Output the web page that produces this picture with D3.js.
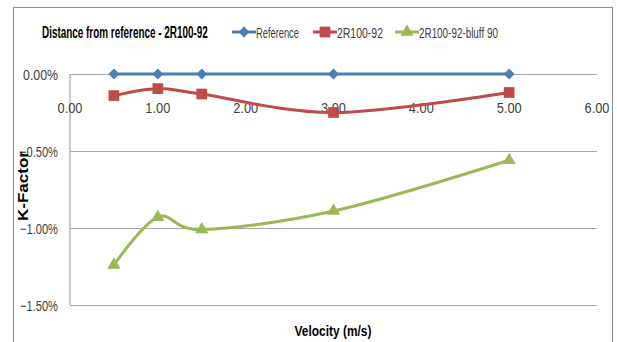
<!DOCTYPE html>
<html>
<head>
<meta charset="utf-8">
<script src="https://cdn.jsdelivr.net/npm/d3@7"></script>
<style>
  body { margin: 0; background: #fff; }
  svg { display: block; }
  text { font-family: "Liberation Sans", Arial, sans-serif; }
</style>
</head>
<body>
<svg id="chart" width="617" height="342"></svg>
<script>
// Velocity (m/s) at which each run was measured
const velocities = [0.5, 1.0, 1.5, 3.0, 5.0];
// K-Factor deviation from the reference, in percent
const referenceValues = [0, 0, 0, 0, 0];
const r100Values = [-0.14, -0.095, -0.13, -0.25, -0.12];
const bluffValues = [-1.24, -0.93, -1.01, -0.89, -0.56];
const seriesNames = ["Reference", "2R100-92", "2R100-92-bluff 90"];
const xTicks = [0, 1, 2, 3, 4, 5, 6];
const yTicks = [0, -0.5, -1.0, -1.5];

const series = [
  { name: seriesNames[0], values: referenceValues, color: "#4a7ebb", symbol: d3.symbolDiamond2, size: 75 },
  { name: seriesNames[1], values: r100Values, color: "#be4b48", symbol: d3.symbolSquare, size: 115 },
  { name: seriesNames[2], values: bluffValues, color: "#98b954", symbol: d3.symbolTriangle, size: 75 }
];

const svg = d3.select("#chart");

// Draw a label condensed horizontally to a given width (narrow face look).
// anchor: "start" | "middle" | "end"; rotate: degrees
function label(parent, str, px, py, width, opts = {}) {
  const g = parent.append("g");
  const t = g.append("text")
    .attr("font-size", opts.size || 14)
    .attr("font-weight", opts.weight || "normal")
    .attr("fill", opts.fill || "#000")
    .attr("text-anchor", opts.anchor || "start")
    .text(str);
  const natural = t.node().getComputedTextLength();
  const k = width / natural;
  g.attr("transform", `translate(${px},${py})` + (opts.rotate ? ` rotate(${opts.rotate})` : "") + ` scale(${k},1)`);
  return g;
}

// outer chart frame
svg.append("rect")
  .attr("x", 13.5).attr("y", 7.5)
  .attr("width", 599).attr("height", 345)
  .attr("fill", "#fff").attr("stroke", "#8c8c8c").attr("stroke-width", 1);

const x = d3.scaleLinear().domain([0, 6]).range([70, 597]);
const y = d3.scaleLinear().domain([-1.5, 0]).range([305, 74]);

// horizontal gridlines
svg.append("g")
  .attr("transform", `translate(${x.range()[0]},0)`)
  .call(d3.axisLeft(y).tickValues(yTicks).tickSize(-(x.range()[1] - x.range()[0])).tickFormat(""))
  .call(g => g.select(".domain").remove())
  .call(g => g.selectAll("line").attr("stroke", "#a6a6a6").attr("stroke-width", 1.2));

// vertical axis line
svg.append("line")
  .attr("x1", x(0)).attr("x2", x(0))
  .attr("y1", y(0)).attr("y2", y(-1.5))
  .attr("stroke", "#a6a6a6").attr("stroke-width", 1.2);

// y tick labels
const yLabels = svg.append("g");
yTicks.forEach(d => {
  label(yLabels, d3.format(".2f")(d) + "%", 58, y(d) + 5.5, d < 0 ? 38 : 35,
    { size: 15, fill: "#404040", anchor: "end" });
});

// x tick labels (placed below the zero line)
const xLabels = svg.append("g");
xTicks.forEach(d => {
  label(xLabels, d3.format(".2f")(d), x(d), 112.5, 25,
    { size: 15, fill: "#404040", anchor: "middle" });
});

// smoothed series lines
const line = d3.line()
  .x((d, i) => x(velocities[i]))
  .y(d => y(d))
  .curve(d3.curveCardinal.tension(0));

series.forEach(s => {
  svg.append("path")
    .datum(s.values)
    .attr("d", line)
    .attr("fill", "none")
    .attr("stroke", s.color)
    .attr("stroke-width", 3)
    .attr("stroke-linejoin", "round");
  svg.append("g")
    .selectAll("path")
    .data(s.values)
    .join("path")
    .attr("transform", (d, i) => `translate(${x(velocities[i])},${y(d)})`)
    .attr("d", d3.symbol().type(s.symbol).size(s.size))
    .attr("fill", s.color);
});

// title
label(svg, "Distance from reference - 2R100-92", 42, 37.5, 166, { size: 16, weight: "bold" });

// legend
const legendX = [232, 313, 395];
const legendW = [43, 46, 79];
series.forEach((s, i) => {
  const g = svg.append("g").attr("transform", `translate(${legendX[i]},32)`);
  g.append("line").attr("x1", 0).attr("x2", 24).attr("y1", 0).attr("y2", 0)
    .attr("stroke", s.color).attr("stroke-width", 3);
  g.append("path").attr("transform", "translate(12,0)")
    .attr("d", d3.symbol().type(s.symbol).size(s.size))
    .attr("fill", s.color);
  label(g, s.name, 24, 5.5, legendW[i], { size: 15, fill: "#404040" });
});

// axis titles
label(svg, "Velocity (m/s)", 333, 336, 77, { size: 15, weight: "bold", anchor: "middle" });
label(svg, "K-Factor", 28, 186, 70, { size: 15, weight: "bold", anchor: "middle", rotate: -90 });
</script>
</body>
</html>
